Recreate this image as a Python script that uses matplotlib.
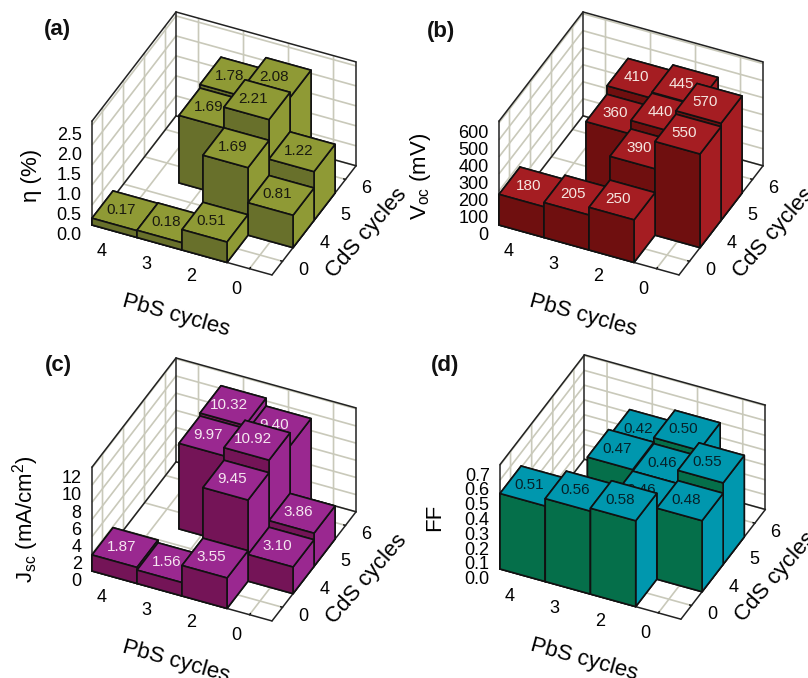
import numpy as np
import matplotlib
matplotlib.use("Agg")
import matplotlib.pyplot as plt
from matplotlib.transforms import Affine2D
from mpl_toolkits.mplot3d import proj3d

plt.rcParams['font.family'] = ['Liberation Sans', 'DejaVu Sans']
plt.rcParams['mathtext.fontset'] = 'custom'
plt.rcParams['mathtext.rm'] = 'Liberation Sans'
plt.rcParams['mathtext.default'] = 'regular'

pbs_labels = ['4', '3', '2', '0']
cds_labels = ['0', '4', '5', '6']
# cell indices of each bar along the PbS and CdS axes
pbs_index = [0, 1, 2, 2, 3, 3, 1, 2, 1, 2]
cds_index = [0, 0, 0, 1, 1, 2, 2, 2, 3, 3]

eta = [0.17, 0.18, 0.51, 1.69, 0.81, 1.22, 1.69, 2.21, 1.78, 2.08]
voc = [180, 205, 250, 390, 550, 570, 360, 440, 410, 445]
jsc = [1.87, 1.56, 3.55, 9.45, 3.10, 3.86, 9.97, 10.92, 10.32, 9.40]
ff = [0.51, 0.56, 0.58, 0.46, 0.48, 0.55, 0.47, 0.46, 0.42, 0.50]

eta_ticks = [0.0, 0.5, 1.0, 1.5, 2.0, 2.5]
voc_ticks = [0, 100, 200, 300, 400, 500, 600]
jsc_ticks = [0, 2, 4, 6, 8, 10, 12]
ff_ticks = [0.0, 0.1, 0.2, 0.3, 0.4, 0.5, 0.6, 0.7]

W, H = 808, 678
GRID = '#C9C9BA'

panels = [
    dict(tag='(a)', tagxy=(44, 30), vals=eta, fmt='{:.2f}', ticks=eta_ticks, tfmt='{:.1f}', zmax=2.6,
         zlabel='\u03b7 (%)', zshift=(21, 16), top='#8F9A35', front='#68702B', txt='#1a1a10',
         fl=(92, 225), fr=(272, 275)),
    dict(tag='(b)', tagxy=(427, 32), vals=voc, fmt='{:.0f}', ticks=voc_ticks, tfmt='{:.0f}', zmax=610,
         zlabel=r'V$_{oc}$ (mV)', zshift=(3, 15), top='#A51D22', front='#6F0F0F', txt='#F5E6E0',
         fl=(499, 225), fr=(679, 275)),
    dict(tag='(c)', tagxy=(45, 366), vals=jsc, fmt='{:.2f}', ticks=jsc_ticks, tfmt='{:.0f}', zmax=12.1,
         zlabel=r'J$_{sc}$ (mA/cm$^{2}$)', zshift=(15, 18), top='#9A2890', front='#741457', txt='#F5E6F0',
         fl=(92, 571), fr=(272, 621)),
    dict(tag='(d)', tagxy=(431, 366), vals=ff, fmt='{:.2f}', ticks=ff_ticks, tfmt='{:.1f}', zmax=0.705,
         zlabel='FF', zshift=(16, 18), top='#0097AE', front='#056F4A', txt='#06222A',
         fl=(500, 569), fr=(681, 619)),
]


def px(ax, x, y, z):
    xd, yd, _ = proj3d.proj_transform(x, y, z, ax.get_proj())
    return ax.transData.transform((xd, yd))


def nudge_label(ax, axis, dx, dy):
    # Axis3D resets the label's transform on every draw, so the shift goes in just before the text is drawn.
    label = axis.label
    original_draw = label.draw

    def draw(renderer):
        label._transform = ax.transData + Affine2D().translate(dx, dy)
        original_draw(renderer)

    label.draw = draw


fig = plt.figure(figsize=(W / 100, H / 100), dpi=100)

for p in panels:
    ax = fig.add_axes([0.1, 0.1, 0.5, 0.5 * W / H], projection='3d', proj_type='ortho',
                      computed_zorder=False)
    ax.view_init(elev=36.9, azim=-65.2)
    ax.set_box_aspect((1, 1.01, 0.655))
    ax.patch.set_alpha(0)
    ax.set_xlim(0, 4)
    ax.set_ylim(0, 4)
    zmax = p['zmax']
    ax.set_zlim(0, zmax)

    # ticks, grid, panes
    ax.set_xticks(np.arange(4) + 0.5, pbs_labels)
    ax.set_yticks(np.arange(4) + 0.5, cds_labels)
    ax.set_zticks(p['ticks'], [p['tfmt'].format(t) for t in p['ticks']])
    for axis in (ax.xaxis, ax.yaxis, ax.zaxis):
        axis.set_pane_color((1, 1, 1, 0))
        axis.pane.set_edgecolor('none')
        axis.line.set_color('none')
        axis._axinfo['grid'].update(color=GRID, linewidth=1.2)
        axis._axinfo['tick'].update(inward_factor=0.0, outward_factor=0.12, linewidth={True: 1.0, False: 0.5})
    ax.zaxis._axinfo['tick'].update(outward_factor=0.0)
    ax.tick_params(axis='x', labelsize=13, pad=3)
    ax.tick_params(axis='y', labelsize=13, pad=5)
    ax.tick_params(axis='z', labelsize=13, pad=-3.6)
    ax.zaxis.set_ticks_position('lower')
    ax.zaxis.set_label_position('lower')
    plt.setp(ax.get_xticklabels(), va='center', ha='right')
    plt.setp(ax.get_yticklabels(), va='bottom')
    plt.setp(ax.get_zticklabels(), ha='right')
    ax.set_xlabel('PbS cycles', fontsize=16, labelpad=14)
    ax.yaxis.set_rotate_label(False)
    ax.set_ylabel('CdS cycles', fontsize=16, labelpad=18, rotation=49)
    ax.zaxis.set_rotate_label(False)
    ax.set_zlabel(p['zlabel'], fontsize=16, labelpad=14, rotation=90)
    nudge_label(ax, ax.xaxis, 20, 0)
    nudge_label(ax, ax.yaxis, -10, 40)
    nudge_label(ax, ax.zaxis, *p['zshift'])
    ax.grid(True)

    # box outline
    edges = [((0, 0), (0, 0), (0, zmax)), ((0, 0), (4, 4), (0, zmax)), ((4, 4), (4, 4), (0, zmax)),
             ((0, 0), (0, 4), (zmax, zmax)), ((0, 4), (4, 4), (zmax, zmax)),
             ((0, 4), (0, 0), (0, 0)), ((4, 4), (0, 4), (0, 0)),
             ((0, 0), (0, 4), (0, 0)), ((0, 4), (4, 4), (0, 0))]
    for ex, ey, ez in edges:
        ax.plot(ex, ey, ez, color='#222222', lw=1.1, zorder=1, solid_capstyle='round')

    # bars back to front
    order = sorted(range(len(p['vals'])), key=lambda i: (-cds_index[i], pbs_index[i]))
    for k, i in enumerate(order):
        xi, yi, v = pbs_index[i], cds_index[i], p['vals'][i]
        faces = [p['top'], p['top'], p['front'], p['front'], p['top'], p['top']]
        ax.bar3d(xi, yi, 0, 1, 1, v, color=faces, shade=False, edgecolor='#111111',
                 linewidth=1.2, zorder=10 + 2 * k)
        ax.text(xi + 0.42, yi + 0.5, v, p['fmt'].format(v), color=p['txt'], fontsize=11,
                ha='center', va='center', rotation=-10, rotation_mode='anchor',
                zorder=11 + 2 * k)

    # fit the box to the panel's place in the figure
    for _ in range(3):
        ax.apply_aspect()
        a = px(ax, 0, 0, 0)
        b = px(ax, 4, 0, 0)
        want_a = np.array([p['fl'][0], H - p['fl'][1]], float)
        want_b = np.array([p['fr'][0], H - p['fr'][1]], float)
        s = np.hypot(*(want_b - want_a)) / np.hypot(*(b - a))
        pos = ax.get_position(original=True)
        nw, nh = pos.width * s, pos.height * s
        ax.set_position([pos.x0, pos.y0, nw, nh])
        ax.apply_aspect()
        a = px(ax, 0, 0, 0)
        pos = ax.get_position(original=True)
        ax.set_position([pos.x0 + (want_a[0] - a[0]) / W, pos.y0 + (want_a[1] - a[1]) / H, nw, nh])

    fig.text(p['tagxy'][0] / W, 1 - p['tagxy'][1] / H, p['tag'], fontsize=16, fontweight='bold',
             ha='left', va='center', color='#111111')

fig.savefig('out.png', dpi=100)
